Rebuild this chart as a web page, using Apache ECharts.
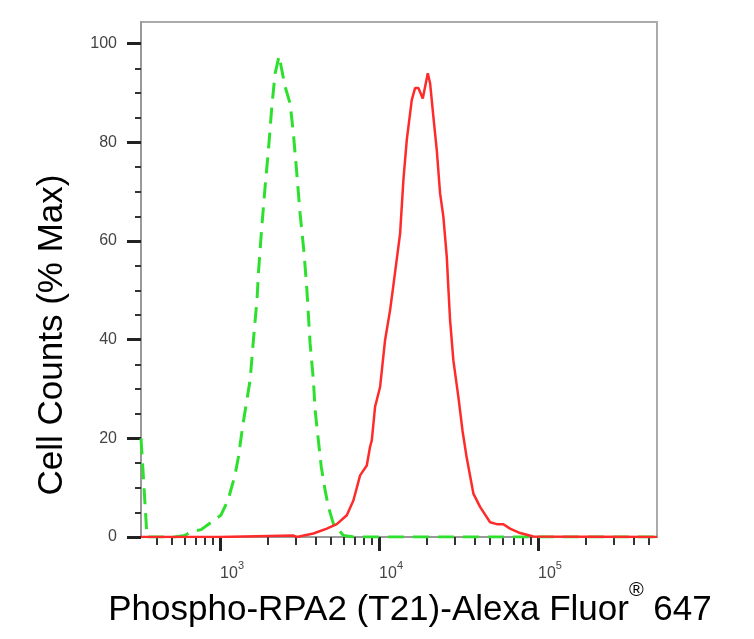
<!DOCTYPE html>
<html>
<head>
<meta charset="utf-8">
<script src="https://cdn.jsdelivr.net/npm/echarts@6/dist/echarts.min.js"></script>
<style>
  html, body { margin: 0; padding: 0; background: #fff; }
  #main { width: 754px; height: 639px; }
</style>
</head>
<body>
<div id="main"></div>
<script>
// fluorescence intensity (linear units) and % of max
const isoX = [318, 328, 338, 347, 420, 520, 600, 650, 760, 1010, 1120, 1240, 1300, 1395, 1544, 1620, 1709, 1741,
  1829, 1919, 2013, 2115, 2218, 2350, 2563, 2756, 2891, 3037, 3185, 3375, 3510, 3681, 3862, 3960, 4150, 4330,
  4575, 4799, 5158, 5964, 7000, 20000, 100000, 560000];
const isoY = [20, 13, 6, 0, 0, 0, 0.3, 1, 1.5, 4.4, 7.4, 12.5, 16, 23, 31.8, 39.9, 48.4, 53.4,
  62.9, 71, 78.4, 87.2, 94, 97.5, 91.3, 87.9, 81.8, 73.7, 65.6, 57.5, 50.4, 39.3, 31.8, 25.7, 19.6, 14.2,
  9.5, 6.1, 2.7, 0.3, 0, 0, 0, 0];

const rpaX = [318, 980, 1000, 2900, 3037, 3862, 4690, 5420, 6265, 6892, 7596, 8368, 8776, 9000, 9436, 10146,
  10906, 11729, 12302, 13557, 14217, 14937, 16059, 16844, 17674, 18832, 20245, 20935, 21955, 23067, 24189,
  25377, 26659, 27285, 27960, 29330, 31530, 33500, 35610, 39190, 43170, 49910, 55000, 60500, 66660, 77060,
  93410, 560000];
const rpaY = [0, 0, 0.3, 0.3, 0, 0.7, 1.7, 2.6, 4.4, 7.4, 12.5, 14.5, 18.3, 19.6, 26.4, 30.4,
  39.9, 46, 51, 61.5, 72.3, 80.5, 88.6, 91, 91, 88.9, 94, 92, 85.2, 78.4, 69.7,
  64.9, 56.8, 50.4, 44, 35.8, 28.4, 21.5, 16, 8.8, 6.1, 3, 2.6, 2.6, 1.7, 0.8,
  0.1, 0];

// axis ticks
const xMajor = [3, 4, 5];
const xMinor = [400, 500, 600, 700, 800, 900, 2000, 3000, 4000, 5000, 6000, 7000, 8000, 9000,
  20000, 30000, 40000, 50000, 60000, 70000, 80000, 90000, 200000, 300000, 400000, 500000];
const yMajor = [0, 20, 40, 60, 80, 100];
const yMinor = [5, 10, 15, 25, 30, 35, 45, 50, 55, 65, 70, 75, 85, 90, 95];

const xMin = Math.log10(318);
const xMax = Math.log10(560000);
const yMax = 104.4;
const font = '"Liberation Sans", Arial, sans-serif';

function pairs(xs, ys) {
  return xs.map((x, i) => [Math.log10(x), ys[i]]);
}

const chart = echarts.init(document.getElementById('main'));

const option = {
  animation: false,
  backgroundColor: '#fff',
  grid: {
    left: 141, right: 97, top: 22, bottom: 102,
    show: true, borderColor: '#aaa', borderWidth: 2,
    outerBoundsMode: 'none'
  },
  xAxis: [
    {
      type: 'value', min: xMin, max: xMax,
      splitLine: { show: false },
      axisLine: { lineStyle: { color: '#999', width: 2 } },
      axisTick: { customValues: xMajor, length: 14, lineStyle: { color: '#222', width: 3 } },
      axisLabel: {
        customValues: xMajor,
        margin: 23,
        align: 'left',
        formatter: v => '{b|10}{s|' + Math.round(v) + '}',
        rich: {
          b: { fontSize: 16, lineHeight: 16, color: '#444', fontFamily: font, verticalAlign: 'bottom' },
          s: { fontSize: 11, lineHeight: 22, color: '#444', fontFamily: font, verticalAlign: 'top' }
        }
      }
    },
    {
      type: 'value', min: xMin, max: xMax, position: 'bottom',
      splitLine: { show: false },
      axisLine: { show: false },
      axisLabel: { show: false },
      axisTick: { customValues: xMinor.map(v => Math.log10(v)), length: 8, lineStyle: { color: '#333', width: 2 } }
    }
  ],
  yAxis: [
    {
      type: 'value', min: 0, max: yMax, interval: 20,
      splitLine: { show: false },
      axisLine: { show: true, lineStyle: { color: '#999', width: 2 } },
      axisTick: { show: true, customValues: yMajor, length: 14, lineStyle: { color: '#222', width: 3 } },
      axisLabel: { customValues: yMajor, margin: 24, fontSize: 16, color: '#444', fontFamily: font }
    },
    {
      type: 'value', min: 0, max: yMax, position: 'left',
      splitLine: { show: false },
      axisLine: { show: false },
      axisLabel: { show: false },
      axisTick: { show: true, customValues: yMinor, length: 6, lineStyle: { color: '#333', width: 2 } }
    }
  ],
  series: [
    {
      name: 'Isotype', type: 'line', showSymbol: false, symbol: 'none',
      data: pairs(isoX, isoY),
      lineStyle: { color: '#2ee02e', width: 3, type: [16, 9] }
    },
    {
      name: 'Phospho-RPA2', type: 'line', showSymbol: false, symbol: 'none',
      data: pairs(rpaX, rpaY),
      lineStyle: { color: '#ff2b2b', width: 2.5 }
    }
  ],
  graphic: [
    {
      type: 'text', x: 410, y: 580,
      style: {
        text: '{a|Phospho-RPA2 (T21)-Alexa Fluor}{r|®}{a| 647}',
        textAlign: 'center', textVerticalAlign: 'top',
        rich: {
          a: { fontSize: 35, lineHeight: 35, fontFamily: font, fill: '#000', verticalAlign: 'bottom' },
          r: { fontSize: 20, lineHeight: 48, fontFamily: font, fill: '#000', verticalAlign: 'top' }
        }
      }
    },
    {
      type: 'text', x: 52, y: 335, rotation: Math.PI / 2,
      style: {
        text: 'Cell Counts (% Max)',
        font: '35px ' + font, fill: '#000',
        textAlign: 'center', textVerticalAlign: 'middle'
      }
    }
  ]
};

chart.setOption(option);
</script>
</body>
</html>
